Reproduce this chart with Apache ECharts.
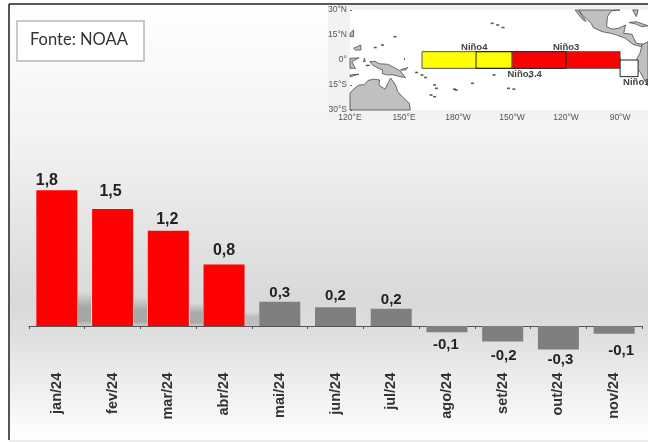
<!DOCTYPE html>
<html>
<head>
<meta charset="utf-8">
<style>html,body{margin:0;padding:0;background:#fff}#c{width:648px;height:442px;filter:blur(0.4px)}</style>
<script src="https://cdn.jsdelivr.net/npm/echarts@6/dist/echarts.min.js"></script>
</head>
<body>
<div id="c"></div>
<script>
// Chart data
const categories = ['jan/24','fev/24','mar/24','abr/24','mai/24','jun/24','jul/24','ago/24','set/24','out/24','nov/24'];
const values = [1.74,1.5,1.22,0.79,0.31,0.24,0.22,-0.08,-0.2,-0.3,-0.1];
const valueLabels = ['1,8','1,5','1,2','0,8','0,3','0,2','0,2','-0,1','-0,2','-0,3','-0,1'];
const labelShift = [[-10,1],[-2,-6],[-1,0],[0,-3],[0,2],[0,-1],[0,2],[-1,2],[1,4],[2,0],[7,7]];
// Inset map data (lon 0-360, lat)
const lonTicks = ['120°E','150°E','180°W','150°W','120°W','90°W'];
const latTicks = {'-30':'30°S','-15':'15°S','0':'0°','15':'15°N','30':'30°N'};
const ninoBoxes = [
  {lon:[160,210],lat:[-5,5],fill:'#ffff00',stroke:'#555'},
  {lon:[210,270],lat:[-5,5],fill:'#ff0000',stroke:'#555'},
  {lon:[190,240],lat:[-5,5],fill:'none',stroke:'#222'},
  {lon:[270,280],lat:[-10,0],fill:'#fff',stroke:'#222'}
];
const ninoNames = [['Niño4',189,7.6],['Niño3',240,7.6],['Niño3.4',217,-8.4],['Niño1+2',282,-13.2]];
const land = [
  [[120,-30],[120,-19.8],[122,-17.5],[125,-15],[128,-14.8],[130,-12.3],[133,-11.5],[136.5,-12],[136,-15],[139.5,-17.5],[141.5,-13],[142.5,-10.8],[145.3,-15],[146.5,-19],[149.5,-22.5],[153,-26],[153.5,-30]],
  [[131,-1],[134,-0.8],[136,-2.2],[141,-2.6],[145,-4.8],[147.8,-6.5],[150.8,-10.5],[147,-9.8],[143.5,-8.8],[141,-9],[138,-8.2],[138,-6],[134,-4],[132.5,-3]],
  [[120,1],[125,1.3],[121,-1],[123,-5],[120,-5]],
  [[122,7],[126,9],[126,6],[123,6]],
  [[120,16],[122,18],[122,14],[120,14]],
  [[148,-6],[152,-4.5],[151,-6]],
  [[128,1],[128.5,-1],[127.5,-1]],
  [[129,-3],[131,-3.2],[129,-3.6]],
  [[120,-9],[125,-8.5],[120,-10]],
  [[245,30],[246.5,30],[250,25],[251,23],[249,24.5]],
  [[247,30],[249,27],[254,22],[255,19.5],[260,17],[265,16],[268,15],[273,13],[277,9.5],[280,8.5],[282,8],[283,9.5],[279,10],[276.5,15.5],[272,16],[273,21],[269,19],[265.5,18.5],[262.5,20],[263,26],[265,29.5],[270,30]],
  [[277,30],[279,26],[280,30]],
  [[275,22.5],[279,23],[285.5,20.5],[282,20],[279,21.5]],
  [[285.5,11],[282,9],[282,8],[281,4],[279.5,1],[279,-3],[278.8,-5],[281,-7],[284,-13],[285.5,-15.5]]
];
const islands = [[199,22],[202,21],[205,19.5],[157,-7.5],[160,-9],[162,-10.5],[167,-15],[168,-17],[178,-17.5],[179,-18],[165,-21],[167,-22],[188,-14],[208,-17],[211,-17.5],[145,14],[134,7.5],[138,9],[172,1.5],[200,-9],[220,-10]];

const chart = echarts.init(document.getElementById('c'));
const shades = [[78,13,292,'#a6a6a6'],[134,13,297,'#a8a8a8'],[190,13,303,'#aaaaaa'],[245,14,312,'#bdbdbd']];
chart.setOption({
  animation:false,
  graphic:[
    {type:'rect',shape:{x:9,y:4,width:639,height:436},z:-5,style:{
      fill:new echarts.graphic.LinearGradient(0,0,0,1,[
        {offset:0,color:'#ffffff'},{offset:0.3,color:'#f3f3f3'},{offset:0.68,color:'#d9d9d9'},{offset:0.76,color:'#dfdfdf'},{offset:1,color:'#ffffff'}]),
      stroke:'none'}},
    {type:'line',shape:{x1:9,y1:4,x2:9,y2:440},z:-1,style:{stroke:'#555',lineWidth:2}},
    {type:'line',shape:{x1:9,y1:4,x2:648,y2:4},z:-1,style:{stroke:'#222',lineWidth:1.5}},
    {type:'line',shape:{x1:9,y1:441,x2:648,y2:441},z:-1,style:{stroke:'#e6e6e6',lineWidth:1.5}},
    ...shades.map(s=>({type:'rect',shape:{x:s[0],y:s[2],width:s[1],height:326-s[2]},z:-1,style:{
      fill:new echarts.graphic.LinearGradient(0,0,0,1,[{offset:0,color:'rgba(170,170,170,0)'},{offset:0.45,color:s[3]},{offset:0.85,color:s[3]},{offset:1,color:'rgba(190,190,190,0.6)'}])}})),
    {type:'rect',shape:{x:328,y:5,width:320,height:115},z:-1,style:{fill:'#f2f2f2'}},
    {type:'rect',shape:{x:17,y:21,width:127,height:40},z:1,style:{fill:'#fff',stroke:'#c8c8c8',lineWidth:2}},
    {type:'text',x:30,y:31,z:2,style:{text:'Fonte: NOAA',font:'16.5px Lato, "Open Sans", sans-serif',fill:'#333'}}
  ],
  grid:[
    {left:29,top:170,width:613,height:202.8,outerBoundsMode:'none'},
    {left:350,top:10,width:298,height:100,show:true,backgroundColor:'#fff',borderWidth:0,outerBoundsMode:'none'}
  ],
  xAxis:[
    {type:'category',gridIndex:0,data:categories,
      axisLine:{show:true,lineStyle:{color:'#555',width:1.2}},
      axisTick:{show:true,length:3,lineStyle:{color:'#555'}},
      axisLabel:{interval:0,rotate:90,margin:0,fontWeight:'bold',fontSize:14.5,fontFamily:'"Liberation Sans", Arial, sans-serif',color:'#333'}},
    {type:'value',gridIndex:1,min:120,max:285.5,interval:30,position:'bottom',splitLine:{show:false},
      axisLine:{show:false},
      axisTick:{show:true,inside:true,length:2,lineStyle:{color:'#666'}},
      axisLabel:{margin:3,showMaxLabel:false,fontSize:8.5,fontFamily:'"Liberation Sans", Arial, sans-serif',color:'#555',
        formatter:v=>lonTicks[(v-120)/30]||''}}
  ],
  yAxis:[
    {type:'value',gridIndex:0,min:-0.6,max:2,show:false},
    {type:'value',gridIndex:1,min:-30,max:30,interval:15,splitLine:{show:false},
      axisLine:{show:false},
      axisTick:{show:true,inside:true,length:2,lineStyle:{color:'#666'}},
      axisLabel:{margin:3,fontSize:8.5,fontFamily:'"Liberation Sans", Arial, sans-serif',color:'#555',formatter:v=>latTicks[v]}}
  ],
  series:[
    {type:'bar',xAxisIndex:0,yAxisIndex:0,barWidth:41,z:3,
      data:values.map((v,i)=>({
        value:v,
        itemStyle:{color:i<4?'#ff0000':'#7f7f7f'},
        label:{show:true,position:v>=0?'top':'bottom',distance:3,formatter:valueLabels[i],
          offset:labelShift[i],
          fontFamily:'"Liberation Sans", Arial, sans-serif',fontWeight:'bold',fontSize:i<4?16:15,color:'#222'}
      }))},
    {type:'custom',xAxisIndex:1,yAxisIndex:1,coordinateSystem:'cartesian2d',z:3,silent:true,
      data:land.map((_,i)=>[i]),
      encode:{x:[],y:[]},
      renderItem:(p,api)=>({type:'polygon',shape:{points:land[p.dataIndex].map(c=>api.coord(c))},
        style:{fill:'#c0c0c0',stroke:'#4a4a4a',lineWidth:0.8}})},
    {type:'scatter',xAxisIndex:1,yAxisIndex:1,z:3,silent:true,symbol:'rect',symbolSize:[3,1.6],
      itemStyle:{color:'#333'},data:islands},
    {type:'custom',xAxisIndex:1,yAxisIndex:1,coordinateSystem:'cartesian2d',z:4,silent:true,
      data:ninoBoxes.map((_,i)=>[i]),
      encode:{x:[],y:[]},
      renderItem:(p,api)=>{const b=ninoBoxes[p.dataIndex];
        const a=api.coord([b.lon[0],b.lat[1]]),d=api.coord([b.lon[1],b.lat[0]]);
        return {type:'rect',shape:{x:a[0],y:a[1],width:d[0]-a[0],height:d[1]-a[1]},
          style:{fill:b.fill,stroke:b.stroke,lineWidth:1}};}},
    {type:'custom',xAxisIndex:1,yAxisIndex:1,coordinateSystem:'cartesian2d',z:5,silent:true,
      data:ninoNames.map((_,i)=>[i]),
      encode:{x:[],y:[]},
      renderItem:(p,api)=>{const n=ninoNames[p.dataIndex];const c=api.coord([n[1],n[2]]);
        return {type:'text',x:c[0],y:c[1],style:{text:n[0],fill:'#444',
          font:'bold 9.5px "Liberation Sans", Arial, sans-serif',textAlign:'center',textVerticalAlign:'middle'}};}}
  ]
});
</script>
</body>
</html>
